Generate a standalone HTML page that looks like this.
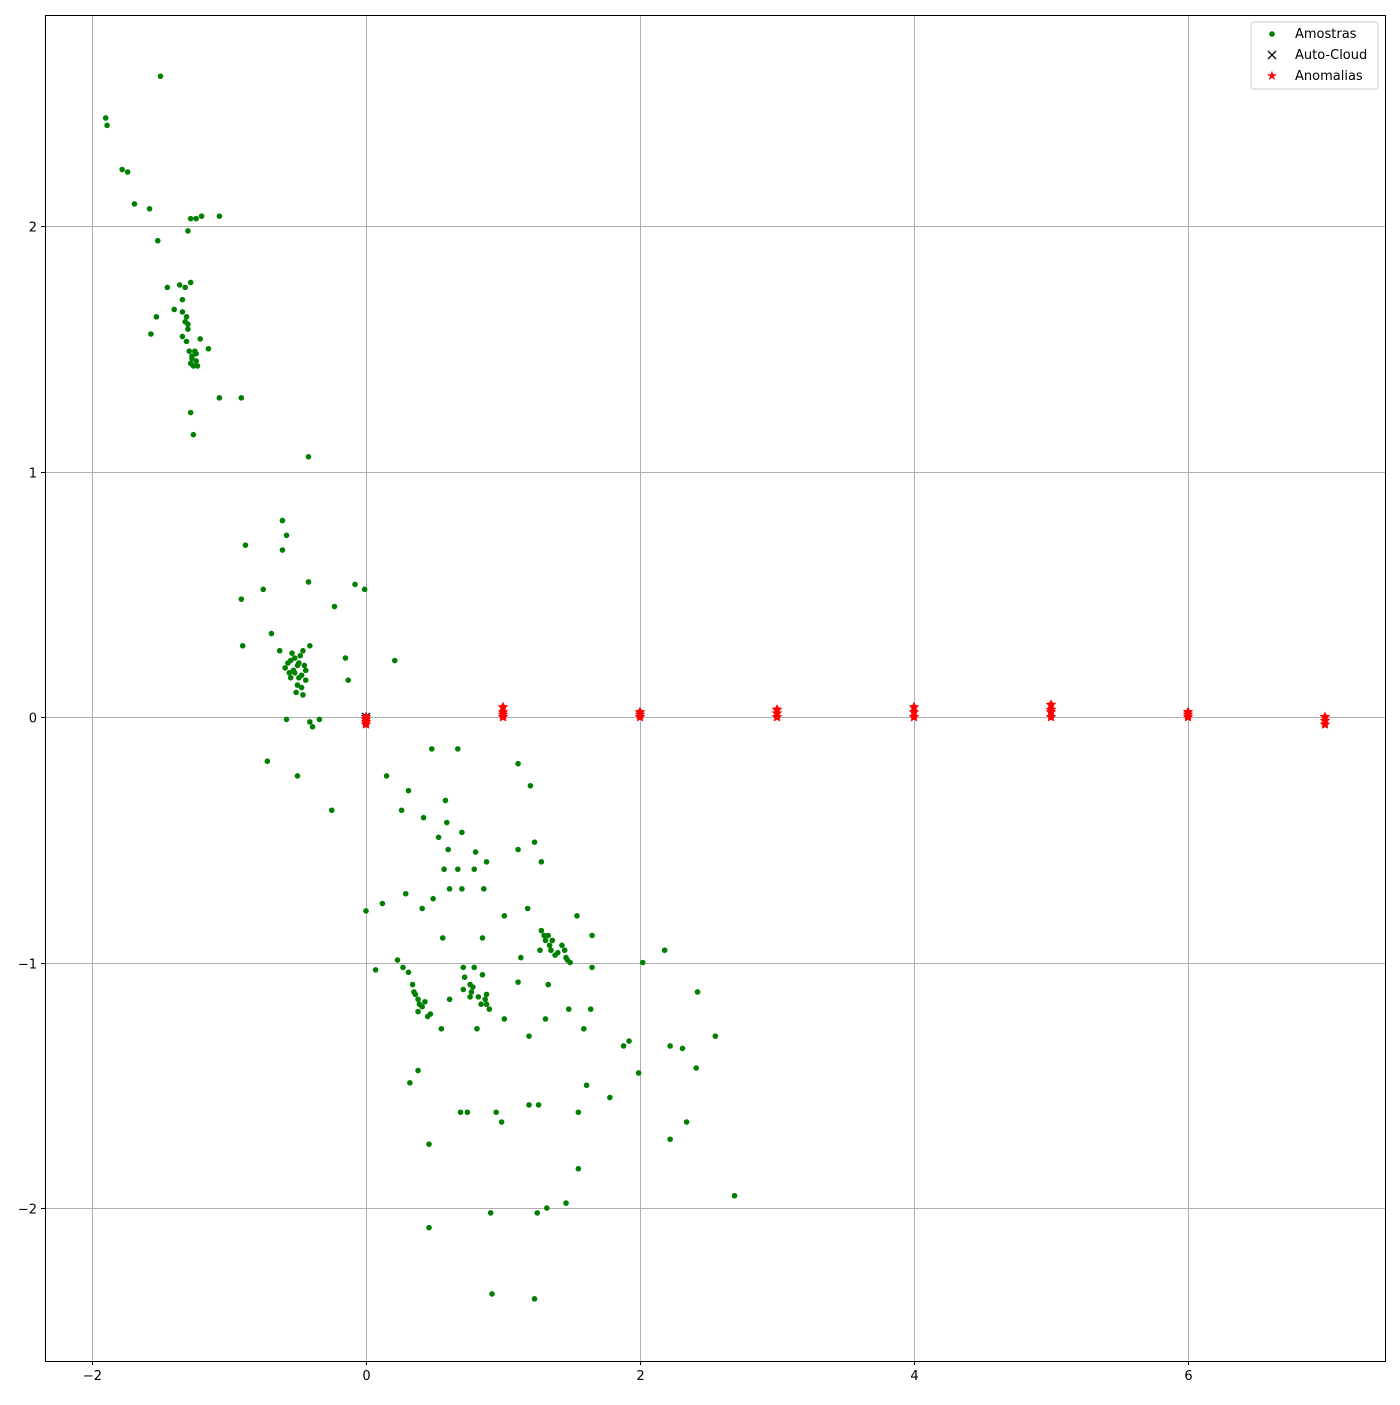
<!DOCTYPE html>
<html><head><meta charset="utf-8"><style>
body{margin:0;background:#fff}
svg text{font-family:"DejaVu Sans","Liberation Sans",sans-serif;font-size:13px}
</style></head><body>
<svg id="chart" width="1400" height="1400" xmlns="http://www.w3.org/2000/svg">
<rect width="1400" height="1400" fill="#fff"/>
<g id="grid"></g>
<g id="marks"></g>
<rect x="45.5" y="15.5" width="1340" height="1346" fill="none" stroke="#000" stroke-width="1"/>
<g id="ticks"></g>
<g>
<rect x="1251" y="22" width="127" height="67" rx="3" fill="#fff" fill-opacity="0.8" stroke="#ccc"/>
<circle cx="1272" cy="34" r="2.8" fill="green"/>
<text x="1295" y="38">Amostras</text>
<path d="M1268,51 l8,8 M1276,51 l-8,8" stroke="#000" stroke-width="1.3"/>
<text x="1295" y="59">Auto-Cloud</text>
<text x="1272" y="80" fill="red" text-anchor="middle" font-size="12">★</text>
<text x="1295" y="80">Anomalias</text>
</g>
</svg>
<script>
const xTicks=[-2,0,2,4,6];
const yTicks=[-2,-1,0,1,2];
const sampleX=[-1.90,-1.89,-1.50,-1.78,-1.74,-1.69,-1.58,-1.52,-1.28,-1.24,-1.20,-1.07,-1.30,-1.45,-1.36,-1.32,-1.28,-1.40,-1.34,-1.34,-1.31,-1.53,-1.57,-1.34,-1.30,-1.31,-1.29,-1.27,-1.25,-1.24,-1.26,-1.21,-1.15,-1.28,-1.23,-1.07,-0.91,-1.28,-1.26,-0.42,
-0.61,-0.58,-0.61,-0.88,-0.91,-0.75,-0.42,-0.08,-0.01,-0.23,-0.69,-0.90,-0.41,-0.15,0.21,-0.13,-0.59,-0.55,-0.52,-0.48,-0.47,-0.50,-0.46,-0.51,-0.55,-0.45,-0.63,-0.54,-0.46,-0.57,-0.50,-0.44,-0.58,-0.41,-0.39,-0.34,-0.72,-0.50,-0.25,
-0.53,-0.49,-0.56,-0.47,-0.52,-0.44,-0.49,-1.30,-1.27,-1.24,-1.32,
0.48,0.67,0.15,1.11,1.20,0.26,0.31,0.58,0.42,0.59,0.70,0.53,0.60,0.80,1.11,1.23,1.28,0.88,0.57,0.67,0.79,0.61,0.70,0.86,0.29,0.49,0.12,0.41,0.0,1.18,1.01,1.54,0.56,0.85,1.65,2.18,1.13,2.02,1.65,
1.28,1.31,1.35,1.38,1.33,1.43,1.46,1.49,1.36,1.27,1.30,1.34,1.40,1.45,1.47,
0.23,0.27,0.07,0.71,0.79,0.85,0.31,0.72,0.76,0.34,1.33,1.11,2.42,0.35,0.38,0.39,0.43,0.47,0.45,0.38,0.71,0.77,0.82,0.76,0.88,0.88,0.90,0.87,0.36,0.41,0.78,0.84,
0.61,0.55,0.81,1.01,1.31,1.48,1.64,1.59,1.19,2.55,1.92,1.88,2.22,2.31,1.99,2.41,0.38,0.32,1.61,1.78,1.19,1.26,0.69,0.74,0.95,1.55,0.99,2.34,2.22,0.46,1.55,2.69,1.46,1.32,1.25,0.91,0.46,0.92,1.23];
const sampleY=[2.44,2.41,2.61,2.23,2.22,2.09,2.07,1.94,2.03,2.03,2.04,2.04,1.98,1.75,1.76,1.75,1.77,1.66,1.70,1.65,1.63,1.63,1.56,1.55,1.58,1.53,1.49,1.47,1.49,1.45,1.43,1.54,1.50,1.44,1.43,1.30,1.30,1.24,1.15,1.06,
0.80,0.74,0.68,0.70,0.48,0.52,0.55,0.54,0.52,0.45,0.34,0.29,0.29,0.24,0.23,0.15,0.20,0.23,0.18,0.25,0.17,0.13,0.09,0.10,0.16,0.21,0.27,0.26,0.27,0.22,0.21,0.15,-0.01,-0.02,-0.04,-0.01,-0.18,-0.24,-0.38,
0.19,0.16,0.18,0.12,0.24,0.19,0.22,1.60,1.46,1.48,1.61,
-0.13,-0.13,-0.24,-0.19,-0.28,-0.38,-0.30,-0.34,-0.41,-0.43,-0.47,-0.49,-0.54,-0.55,-0.54,-0.51,-0.59,-0.59,-0.62,-0.62,-0.62,-0.70,-0.70,-0.70,-0.72,-0.74,-0.76,-0.78,-0.79,-0.78,-0.81,-0.81,-0.90,-0.90,-0.89,-0.95,-0.98,-1.00,-1.02,
-0.87,-0.91,-0.95,-0.97,-0.89,-0.93,-0.98,-1.00,-0.91,-0.95,-0.89,-0.93,-0.96,-0.95,-0.99,
-0.99,-1.02,-1.03,-1.02,-1.02,-1.05,-1.04,-1.06,-1.09,-1.09,-1.09,-1.08,-1.12,-1.12,-1.15,-1.17,-1.16,-1.21,-1.22,-1.20,-1.11,-1.12,-1.14,-1.14,-1.13,-1.17,-1.19,-1.15,-1.13,-1.18,-1.10,-1.17,
-1.15,-1.27,-1.27,-1.23,-1.23,-1.19,-1.19,-1.27,-1.30,-1.30,-1.32,-1.34,-1.34,-1.35,-1.45,-1.43,-1.44,-1.49,-1.50,-1.55,-1.58,-1.58,-1.61,-1.61,-1.61,-1.61,-1.65,-1.65,-1.72,-1.74,-1.84,-1.95,-1.98,-2.00,-2.02,-2.02,-2.08,-2.35,-2.37];
const anomX=[0,0,0,0,1,1,1,1,2,2,2,3,3,3,4,4,4,5,5,5,5,6,6,6,7,7,7];
const anomY=[0,-0.01,-0.02,-0.03,0,0.01,0.02,0.04,0,0.01,0.02,0,0.015,0.03,0,0.02,0.04,0,0.02,0.03,0.05,0,0.01,0.02,0,-0.015,-0.03];
const cloudX=[0];
const cloudY=[0];
const L=45,R=1385,T=15,B=1361;
const sx=v=>366+v*137.0;
const sy=v=>717-v*245.5;
const NS="http://www.w3.org/2000/svg";
const grid=document.getElementById('grid'),ticks=document.getElementById('ticks'),marks=document.getElementById('marks');
function mk(t,a,p){const e=document.createElementNS(NS,t);for(const k in a)e.setAttribute(k,a[k]);p.appendChild(e);return e;}
xTicks.forEach(v=>{const x=Math.round(sx(v))+0.5;
 const g=mk('line',{x1:x,x2:x,y1:T,y2:B,stroke:'#b0b0b0','stroke-width':1},grid);
 
 
 mk('line',{x1:x,x2:x,y1:B,y2:B+4,stroke:'#000'},ticks);
 const t=mk('text',{x:x,y:B+19,'text-anchor':'middle'},ticks);t.textContent=v<0?'−'+(-v):v;
 
 });
yTicks.forEach(v=>{const y=Math.round(sy(v))+0.5;
 const g=mk('line',{x1:L,x2:R,y1:y,y2:y,stroke:'#b0b0b0','stroke-width':1},grid);
 
 
 mk('line',{x1:L-4,x2:L,y1:y,y2:y,stroke:'#000'},ticks);
 const t=mk('text',{x:L-8,y:y+5,'text-anchor':'end'},ticks);t.textContent=v<0?'−'+(-v):v;
 
 });
sampleX.forEach((v,i)=>{const c=mk('circle',{cx:sx(v),cy:sy(sampleY[i]),r:2.8,fill:'green'},marks);
 
 });
cloudX.forEach((v,i)=>{const x=sx(v),y=sy(cloudY[i]);
 const p=mk('path',{d:`M${x-4},${y-4} l8,8 M${x+4},${y-4} l-8,8`,stroke:'#000','stroke-width':1.3},marks);
 
 });
function star(x,y,r){let d='';for(let k=0;k<10;k++){const a=-Math.PI/2+k*Math.PI/5;const rr=k%2?r*0.5:r;d+=(k?'L':'M')+(x+rr*Math.cos(a)).toFixed(2)+','+(y+rr*Math.sin(a)).toFixed(2);}return d+'Z';}
anomX.forEach((v,i)=>{const p=mk('path',{d:star(sx(v),sy(anomY[i]),5.5),fill:'red'},marks);
 
 });
</script>
</body></html>
